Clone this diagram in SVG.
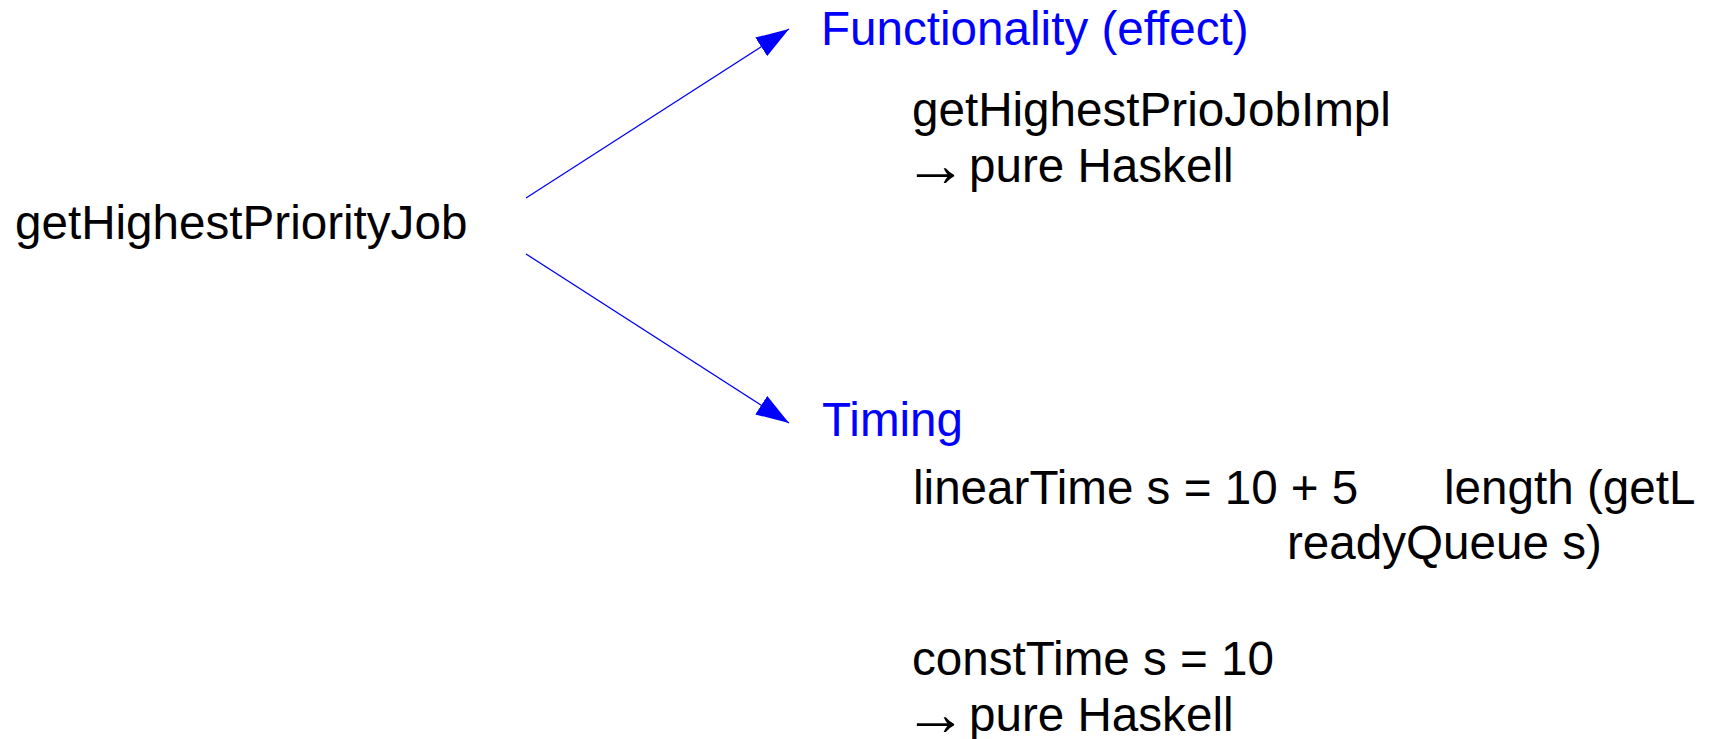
<svg xmlns="http://www.w3.org/2000/svg" width="1715" height="739" viewBox="0 0 1715 739">
  <style>
    text { font-family: "Liberation Sans", Arial, sans-serif; font-size: 47.6px; fill: #000000; }
    .head { fill: #0000ff; }
    .arr { font-size: 63px; }
    .edge { stroke: #0000ff; stroke-width: 1.3; fill: none; }
  </style>
  <defs>
    <marker id="arrow" markerUnits="userSpaceOnUse" markerWidth="33" markerHeight="22" viewBox="0 0 33 22" refX="33" refY="11" orient="auto">
      <path d="M0,0 L33,11 L0,22 Z" fill="#0000ff"/>
    </marker>
  </defs>
  <rect width="1715" height="739" fill="#ffffff"/>

  <!-- source function -->
  <g id="source">
    <text x="15" y="239">getHighestPriorityJob</text>
  </g>

  <!-- functional side -->
  <g id="functionality">
    <text class="head" x="821" y="45">Functionality (effect)</text>
    <text x="912" y="126">getHighestPrioJobImpl</text>
    <text class="arr" x="904" y="186">→</text>
    <text x="969" y="182">pure Haskell</text>
  </g>

  <!-- timing side -->
  <g id="timing">
    <text class="head" x="822" y="436">Timing</text>
    <text x="913" y="504">linearTime s = 10 + 5</text>
    <text x="1444" y="504">length (getL</text>
    <text x="1287" y="559">readyQueue s)</text>
    <text x="912" y="675">constTime s = 10</text>
    <text class="arr" x="904" y="735">→</text>
    <text x="969" y="731">pure Haskell</text>
  </g>

  <!-- connectors -->
  <g id="connectors">
    <line class="edge" x1="526" y1="198" x2="789" y2="29" marker-end="url(#arrow)"/>
    <line class="edge" x1="526" y1="254" x2="789" y2="423" marker-end="url(#arrow)"/>
  </g>
</svg>
